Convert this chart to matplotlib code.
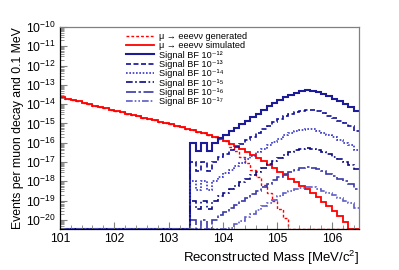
import numpy as np
import matplotlib
matplotlib.use("Agg")
import matplotlib.pyplot as plt
from matplotlib.ticker import LogLocator, MultipleLocator

plt.rcParams['font.family'] = ['Liberation Sans', 'DejaVu Sans']
plt.rcParams['mathtext.fontset'] = 'custom'
plt.rcParams['mathtext.rm'] = 'Liberation Sans'
plt.rcParams['mathtext.it'] = 'Liberation Sans:italic'

# bin edges, 0.1 MeV bins
edges = np.round(np.arange(101.0, 106.55, 0.1), 1)

# log10 of contents, nan = empty bin
bg_sim_log = [-13.65, -13.72, -13.79, -13.86, -13.93, -14.00, -14.07, -14.14, -14.21, -14.28,
              -14.35, -14.42, -14.49, -14.56, -14.63, -14.70, -14.77, -14.84, -14.91, -14.98,
              -15.05, -15.12, -15.19, -15.27, -15.35, -15.43, -15.52, -15.61, -15.71, -15.81,
              -15.92, -16.04, -16.17, -16.31, -16.46, -16.62, -16.79, -16.97, -17.15, -17.33,
              -17.51, -17.69, -17.87, -18.05, -18.23, -18.42, -18.62, -18.83, -19.05, -19.28,
              -19.52, -19.80, -20.10, np.nan, np.nan]

bg_gen_log = [-13.65, -13.72, -13.79, -13.86, -13.93, -14.00, -14.07, -14.14, -14.21, -14.28,
              -14.35, -14.42, -14.49, -14.56, -14.63, -14.70, -14.77, -14.84, -14.91, -14.98,
              -15.05, -15.12, -15.19, -15.27, -15.35, -15.43, -15.52, -15.61, -15.71, -15.81,
              -15.92, -16.20, -16.45, -16.75, -17.05, -17.40, -17.80, -18.20, -18.60, -19.00,
              -19.45, -19.90, np.nan, np.nan, np.nan, np.nan, np.nan, np.nan, np.nan, np.nan,
              np.nan, np.nan, np.nan, np.nan, np.nan]

# signal shape for BF = 1e-12
sig_log = [np.nan] * 24 + [-16.00, -16.45, -16.00, -16.45, -16.00, -15.75,
                           -15.58, -15.40, -15.22, -15.04, -14.86, -14.68, -14.50, -14.30, -14.12, -13.95,
                           -13.78, -13.62, -13.50, -13.40, -13.33, -13.28, -13.30, -13.38, -13.48, -13.60,
                           -13.72, -13.86, -14.00, -14.14, -14.38]

bf_exp = [-12, -13, -14, -15, -16, -17]
bf_labels = ['Signal BF 10⁻¹²', 'Signal BF 10⁻¹³', 'Signal BF 10⁻¹⁴',
             'Signal BF 10⁻¹⁵', 'Signal BF 10⁻¹⁶', 'Signal BF 10⁻¹⁷']
sig_colors = ['#1c1c99', '#10109a', '#3535c8', '#0a0a80', '#3a3aa8', '#5c5cc8']
sig_styles = ['-', (0, (3, 1.5)), (0, (1, 1)), (0, (4, 1.5, 1, 1.5)), (0, (6, 1.5, 1.5, 1.5)),
              (0, (4, 1.2, 1, 1.2, 1, 1.2))]
sig_widths = [1.5, 1.2, 1.2, 1.2, 1.2, 1.2]

ymin, ymax = 3.4e-21, 1e-10


def to_content(logs, shift=0.0):
    v = 10.0 ** (np.array(logs, dtype=float) + shift)
    v = np.where(np.isnan(v), ymin, v)
    return np.clip(v, ymin, None)


fig = plt.figure(figsize=(3.99, 2.70), dpi=100)
ax = fig.add_axes([0.150, 0.152, 0.750, 0.748])

handles = []
h = ax.stairs(to_content(bg_gen_log), edges, baseline=None, color='red', lw=1.0,
              linestyle=(0, (2, 1.5)), label='μ → eeeνν generated')
handles.append(h)
h = ax.stairs(to_content(bg_sim_log), edges, baseline=ymin, color='red', lw=1.3,
              label='μ → eeeνν simulated')
handles.append(h)

for e, lab, c, ls, lw in zip(bf_exp, bf_labels, sig_colors, sig_styles, sig_widths):
    h = ax.stairs(to_content(sig_log, e + 12), edges, baseline=None, color=c, lw=lw,
                  linestyle=ls, label=lab)
    handles.append(h)

ax.set_yscale('log')
ax.set_xlim(101, 106.5)
ax.set_ylim(ymin, ymax)
ax.yaxis.set_major_locator(LogLocator(base=10, numticks=20))
ax.yaxis.set_minor_locator(LogLocator(base=10, subs=np.arange(2, 10), numticks=100))
ax.xaxis.set_major_locator(MultipleLocator(1))
ax.xaxis.set_minor_locator(MultipleLocator(0.2))
ax.tick_params(which='both', direction='in', color='#808080', right=False, top=False)
ax.tick_params(which='major', length=5, width=0.8, labelsize=8.8, pad=3)
ax.tick_params(which='minor', length=3, width=0.6)
for s in ax.spines.values():
    s.set_color('#808080')
    s.set_linewidth(0.9)
ax.spines['left'].set_color('black')
ax.spines['bottom'].set_color('black')

ax.set_xlabel('Reconstructed Mass [MeV/c$^{2}$]', fontsize=9.5, loc='right', labelpad=3)
ax.set_ylabel('Events per muon decay and 0.1 MeV', fontsize=8.8, loc='top', labelpad=1)

leg = ax.legend(handles=handles, loc='upper left', bbox_to_anchor=(0.20, 1.008), frameon=False,
                fontsize=6.6, handlelength=3.0, handletextpad=0.6, labelspacing=0.04,
                borderpad=0.2)

fig.savefig('out.png', dpi=100)
